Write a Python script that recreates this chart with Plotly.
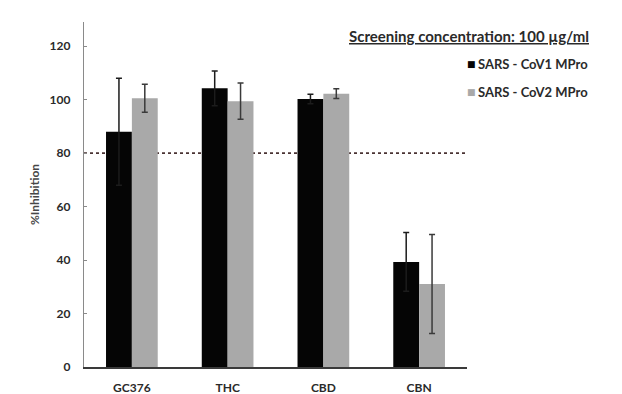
import plotly.graph_objects as go

# Compounds screened and mean inhibition (%) with error (SD)
compounds = ["GC376", "THC", "CBD", "CBN"]
series_names = ["SARS - CoV1 MPro", "SARS - CoV2 MPro"]
cov1_mean = [88.0, 104.2, 100.2, 39.3]
cov1_err = [20.0, 6.5, 1.8, 11.0]
cov2_mean = [100.5, 99.4, 102.2, 31.0]
cov2_err = [5.2, 6.8, 1.8, 18.5]
y_ticks = [0, 20, 40, 60, 80, 100, 120]
threshold = 80

FONT = "Lato, 'Open Sans', sans-serif"
TXT = "#2a2a2a"
COLORS = ["#050505", "#a9a9a9"]

fig = go.Figure()
fig.add_trace(go.Bar(
    x=compounds, y=cov1_mean, name=series_names[0], showlegend=False,
    marker=dict(color=COLORS[0], line=dict(width=0)),
    error_y=dict(type="data", array=cov1_err, color="#1c1c1c", thickness=1.5, width=3),
))
fig.add_trace(go.Bar(
    x=compounds, y=cov2_mean, name=series_names[1], showlegend=False,
    marker=dict(color=COLORS[1], line=dict(width=0)),
    error_y=dict(type="data", array=cov2_err, color="#3a3a3a", thickness=1.5, width=3),
))

# 80 % inhibition threshold line
fig.add_shape(type="line", xref="paper", yref="y", x0=0, x1=1, y0=threshold, y1=threshold,
              line=dict(color="#4a3333", width=1.8, dash="dot"), layer="below")

# Heading above the key
fig.add_annotation(
    text="<u>Screening concentration: 100 µg/ml</u>", xref="paper", yref="paper",
    x=1.323, y=0.96, xanchor="right", yanchor="middle", showarrow=False,
    font=dict(family=FONT, size=15, color=TXT, weight="bold"),
)

# Key: small square swatch followed by the series name
key_rows_y = [0.878, 0.797]
for name, color, yk in zip(series_names, COLORS, key_rows_y):
    fig.add_annotation(
        text="■", xref="paper", yref="paper", x=1.012, y=yk,
        xanchor="center", yanchor="middle", showarrow=False,
        font=dict(family="DejaVu Sans", size=9, color=color),
    )
    fig.add_annotation(
        text=name, xref="paper", yref="paper", x=1.023, y=yk,
        xanchor="left", yanchor="middle", showarrow=False,
        font=dict(family=FONT, size=13, color=TXT, weight="bold"),
    )

fig.update_layout(
    width=622, height=394,
    margin=dict(l=84, r=155, t=22, b=27),
    paper_bgcolor="white", plot_bgcolor="white",
    barmode="group", bargap=0.46, bargroupgap=0,
    font=dict(family=FONT, color=TXT),
    showlegend=False,
    xaxis=dict(
        showline=True, linecolor="#3a3a3a", linewidth=2,
        ticks="", ticklabelstandoff=9, automargin=False,
        tickfont=dict(family=FONT, size=12, color=TXT, weight="bold"),
        showgrid=False,
    ),
    yaxis=dict(
        range=[0, 129], tickvals=y_ticks, automargin=False,
        showline=True, linecolor="#8a8a8a", linewidth=1.2,
        ticks="inside", ticklen=3, tickcolor="#8a8a8a",
        tickfont=dict(family=FONT, size=12, color=TXT, weight="bold"),
        showgrid=False, zeroline=False, ticklabelstandoff=10,
        title=dict(text="%Inhibition", font=dict(family=FONT, size=12, color="#474747", weight="bold"), standoff=7),
    ),
)

fig.write_html("out.html")
